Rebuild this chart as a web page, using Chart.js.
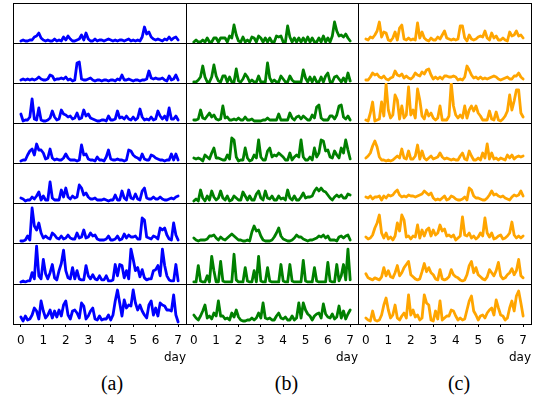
<!DOCTYPE html>
<html><head><meta charset="utf-8">
<script src="https://cdn.jsdelivr.net/npm/chart.js@4.4.0/dist/chart.umd.min.js"></script>
<style>
html,body{margin:0;padding:0;background:#fff;}
#wrap{position:relative;width:542px;height:398px;overflow:hidden;background:#fff;}
.p{position:absolute;}
.p canvas{display:block;}
.lab{position:absolute;font-family:"Liberation Serif","DejaVu Serif",serif;font-size:20px;line-height:20px;color:#000;transform:translate(-50%,-50%);white-space:nowrap;}
</style></head><body><div id="wrap"></div>
<script>
// x positions (day) of the samples
const days = [0,0.1,0.2,0.3,0.4,0.5,0.6,0.7,0.8,0.9,1,1.1,1.2,1.3,1.4,1.5,1.6,1.7,1.8,1.9,2,2.1,2.2,2.3,2.4,2.5,2.6,2.7,2.8,2.9,3,3.1,3.2,3.3,3.4,3.5,3.6,3.7,3.8,3.9,4,4.1,4.2,4.3,4.4,4.5,4.6,4.7,4.8,4.9,5,5.1,5.2,5.3,5.4,5.5,5.6,5.7,5.8,5.9,6,6.1,6.2,6.3,6.4,6.5,6.6,6.7,6.8,6.9,7];
const dayTicks = [0,1,2,3,4,5,6,7];
const tickLabels = ['0','1','2','3','4','5','6','7'];
const axisTitle = 'day';
const panelLabels = ['(a)','(b)','(c)'];

// column (a) - blue
const a1 = [2,3,2,2,3,3,6,7,10,5, 3,2,3,2,2,4,2,3,2,6, 3,7,4,2,2,3,4,8,3,10, 4,2,2,4,2,3,3,2,3,4, 3,2,3,2,3,3,2,3,4,2, 3,2,3,2,6,16,9,11,6,4, 3,4,3,2,4,3,6,3,5,6, 3];
const a2 = [3,4,3,4,3,4,3,4,6,4, 3,3,4,8,7,3,4,4,5,4, 6,3,4,2,3,20,21,4,3,3, 4,5,3,2,3,3,2,3,3,2, 3,3,2,4,3,8,3,3,4,3, 2,3,3,2,3,3,4,12,5,4, 5,4,4,5,3,2,7,3,4,8, 3];
const a3 = [9,2,3,3,6,24,4,3,15,3, 2,2,3,5,12,6,3,4,13,9, 8,6,7,4,5,10,4,5,13,7, 9,5,4,3,2,2,3,3,2,7, 3,3,4,12,5,6,4,7,4,3, 6,3,5,14,6,3,4,3,6,3, 4,12,7,4,7,3,15,4,4,7, 3];
const a4 = [2,3,3,8,12,14,8,19,13,13, 10,4,5,14,5,3,4,3,3,5, 9,5,3,3,3,2,3,18,8,9, 4,3,3,2,6,3,3,2,6,13, 4,3,3,4,3,3,2,3,13,12, 8,6,5,3,9,4,3,3,8,7, 5,4,3,3,2,3,3,9,3,9, 3];
const a5 = [5,4,2,3,3,6,4,7,11,3, 7,3,3,21,5,3,3,3,13,6, 15,6,4,7,5,6,18,15,8,10, 6,4,4,5,3,3,3,4,3,2, 3,3,8,3,3,12,5,3,13,5, 4,9,4,3,12,15,5,4,4,6, 4,4,6,4,3,3,4,5,4,6, 7];
const a6 = [2,2,3,7,3,35,17,13,20,10, 5,7,5,4,10,8,5,4,7,4, 5,8,5,4,4,10,5,6,13,5, 6,10,7,8,4,3,3,3,4,7, 3,3,4,7,3,4,9,5,8,6, 6,7,4,4,25,23,6,5,4,7, 6,4,15,13,15,8,4,3,20,8, 3];
const a7 = [2,3,2,3,3,11,5,37,8,5, 24,10,5,11,19,6,4,13,20,33, 13,6,5,16,5,13,5,4,4,18, 8,5,9,5,4,8,4,4,8,3, 3,4,19,8,19,18,6,13,5,34, 24,13,16,7,14,6,4,5,5,13, 14,18,8,34,18,8,4,3,3,19, 3];
const a8 = [7,3,8,4,5,9,16,13,5,23, 13,6,9,14,6,13,7,14,8,19, 23,9,5,13,14,11,6,21,18,5, 8,13,16,5,4,8,4,5,5,9, 4,9,23,34,21,8,24,16,19,18, 34,21,14,19,13,9,6,19,23,9, 16,8,21,19,18,14,14,13,29,9, 2];

// column (b) - green
const b1 = [1,3,1,1,3,1,5,1,1,5, 5,1,5,5,5,1,7,5,18,8, 2,1,6,1,3,1,6,5,1,7, 5,1,5,1,5,1,1,7,6,7, 1,1,17,6,1,5,1,5,1,5, 1,6,1,5,1,1,5,1,7,1, 5,1,7,21,12,7,8,6,9,5, 2];
const b2 = [1,1,3,6,17,6,1,1,6,18, 7,2,1,7,7,1,6,1,1,14, 2,1,4,9,6,1,3,1,1,7, 1,1,1,20,5,1,3,1,1,7, 4,1,1,7,3,1,1,1,1,13, 5,1,6,1,6,1,1,6,1,7, 10,1,1,6,7,4,1,5,1,10, 2];
const b3 = [3,3,4,13,5,4,7,10,6,8, 4,3,4,17,5,6,3,3,4,3, 5,3,3,6,3,3,4,2,2,2, 2,3,3,5,3,3,3,3,9,3, 3,3,3,10,5,3,6,7,4,7, 5,3,3,8,5,16,18,5,3,3, 3,7,7,4,8,17,18,6,4,7, 3];
const b4 = [5,4,5,4,2,8,6,4,10,15, 5,5,4,3,3,8,4,25,23,6, 2,3,3,15,5,2,3,8,5,23, 6,3,3,12,15,6,8,7,10,8, 6,3,3,10,3,6,8,6,23,6, 3,3,6,3,15,6,10,23,22,12, 13,6,5,12,8,5,15,10,23,13, 4];
const b5 = [2,4,2,13,5,2,7,3,12,6, 3,5,12,5,3,7,2,3,7,5, 3,3,11,7,3,7,3,3,9,12, 5,3,12,5,4,7,3,3,7,4, 5,3,13,5,3,7,3,3,6,10, 5,6,6,7,12,15,12,15,12,11, 8,5,3,6,8,6,8,5,5,9, 8];
const b6 = [5,3,2,3,3,3,4,7,7,8, 5,3,6,4,3,5,7,9,7,5, 3,3,2,2,3,2,11,17,12,13, 7,3,2,2,2,3,6,10,15,7, 4,3,2,2,3,5,8,6,6,4, 3,2,3,3,4,5,7,6,8,5, 7,3,3,3,2,6,7,5,7,8, 3];
const b7 = [2,2,18,3,2,2,8,2,27,13, 2,2,22,3,2,2,2,2,29,4, 2,2,2,16,3,2,2,13,2,27, 3,2,2,16,3,2,2,2,2,19, 3,2,2,19,3,2,2,2,2,23, 3,2,2,2,16,3,2,2,2,2, 21,3,2,2,19,3,8,19,4,34, 4];
const b8 = [9,6,4,8,13,19,6,8,5,11, 8,23,8,8,5,6,4,11,7,14, 7,4,3,3,4,4,6,4,6,11, 6,21,6,5,6,4,4,8,11,6, 5,7,4,4,8,4,6,21,6,21, 14,10,8,4,8,10,11,6,20,10, 7,6,10,5,7,18,6,13,5,10, 14];

// column (c) - orange
const c1 = [4,3,6,5,8,12,21,6,11,10, 3,2,5,11,3,15,18,4,3,5, 3,4,3,20,5,11,5,3,2,5, 3,3,6,4,8,12,5,4,3,4, 3,4,17,17,5,2,8,4,3,4, 6,7,6,12,5,3,10,5,7,3, 3,5,3,2,11,7,8,12,7,8, 5];
const c2 = [3,3,6,10,8,9,6,5,7,4, 3,5,6,12,8,7,9,5,7,5, 4,6,10,8,7,11,9,13,14,8, 4,6,4,6,4,7,7,6,6,7, 6,3,4,3,6,17,13,8,5,6, 4,6,4,5,4,5,6,7,6,4, 3,4,5,6,4,4,7,7,10,6, 4];
const c3 = [3,2,10,21,2,3,4,21,7,39, 13,5,8,28,23,4,17,5,8,36, 8,13,5,34,23,7,4,13,7,10, 5,3,5,17,3,3,3,7,40,17, 8,5,8,5,17,5,13,17,12,17, 10,7,3,3,3,12,4,3,11,3, 2,4,7,12,28,13,22,33,33,10, 6];
const c4 = [5,7,10,17,22,16,6,3,3,2, 3,2,3,5,7,5,14,5,4,12, 4,4,7,18,4,12,5,3,5,7, 4,5,6,10,6,4,5,4,3,4, 3,3,7,10,4,3,12,7,3,3, 5,3,10,5,19,4,10,4,5,3, 5,4,3,8,5,8,4,6,7,6, 7];
const c5 = [6,5,7,4,6,6,7,3,7,5, 8,7,8,11,13,8,6,7,6,8, 7,7,6,7,8,9,12,10,8,10, 5,3,4,3,5,7,3,4,7,6, 4,3,3,4,6,3,15,13,7,5, 5,4,3,3,5,8,12,8,9,7, 6,7,5,4,3,6,8,7,8,12, 7];
const c6 = [6,4,5,8,15,20,28,10,5,10, 4,6,3,7,20,12,28,23,6,7, 4,7,6,18,5,13,7,13,15,7, 13,8,10,18,12,14,7,8,6,8, 3,5,7,26,8,7,10,5,7,4, 6,10,7,25,10,6,10,4,5,7, 8,4,5,7,10,21,8,5,7,5, 7];
const c7 = [10,6,5,4,6,5,4,7,16,8, 13,7,6,11,18,8,11,16,19,22, 9,7,5,4,5,12,20,12,16,11, 9,5,4,14,5,4,5,7,14,9, 7,6,4,3,4,9,18,22,11,16, 9,7,5,4,7,14,11,8,13,21, 8,5,6,9,11,15,9,13,24,8, 6];
const c8 = [6,4,3,13,4,3,4,9,19,26, 14,6,9,19,6,4,8,11,6,29, 9,14,7,9,4,6,29,21,19,4, 3,13,5,23,4,6,8,8,14,13, 8,4,6,4,5,14,23,28,13,9, 4,8,9,6,11,14,16,9,24,16, 9,8,4,6,16,23,13,28,33,21, 8];

const columns = [[a1,a2,a3,a4,a5,a6,a7,a8],[b1,b2,b3,b4,b5,b6,b7,b8],[c1,c2,c3,c4,c5,c6,c7,c8]];
const colors = ['#0000ff','#008000','#ffa500'];

// layout (pixels)
const colLeft = [13,186,358];
const colWidth = [173,172,174];
const rowTop = [3,43,83,123,163,203,243,284];
const rowBottom = 324;
const axisH = 46;
const labelPos = [[112,383],[286.5,383],[459,383]];

const wrap = document.getElementById('wrap');
const noTick = {display:false};
const noGrid = {display:false, drawTicks:false};
const frame = {display:true, color:'#000', width:1};
function zeroPad(s) { s.paddingLeft = 0; s.paddingRight = 0; s.paddingTop = 0; s.paddingBottom = 0; }

for (let c = 0; c < 3; c++) {
  for (let r = 0; r < 8; r++) {
    const isBottom = r === 7;
    const h = (r < 7 ? rowTop[r+1] : rowBottom) - rowTop[r];
    const W = colWidth[c];
    const H = h + (isBottom ? axisH : 0);
    const div = document.createElement('div');
    div.className = 'p';
    div.style.left = colLeft[c] + 'px';
    div.style.top = rowTop[r] + 'px';
    div.style.width = W + 'px';
    div.style.height = H + 'px';
    const cv = document.createElement('canvas');
    cv.width = W; cv.height = H;
    cv.style.width = W + 'px'; cv.style.height = H + 'px';
    div.appendChild(cv);
    wrap.appendChild(div);

    const vals = columns[c][r];
    const scales = {
      x: {
        type:'linear', min:-0.35, max:7.35, position:'bottom', display:isBottom,
        afterBuildTicks: s => { s.ticks = dayTicks.map(v => ({value:v})); },
        afterFit: s => { s.height = isBottom ? axisH : 0; zeroPad(s); },
        ticks: {display:true, padding:7, color:'#000', autoSkip:false, maxRotation:0,
                font:{family:'DejaVu Sans', size:12},
                callback: v => { const k = dayTicks.indexOf(v); return k >= 0 ? tickLabels[k] : ''; }},
        grid: {display:true, drawOnChartArea:false, drawTicks:true, tickLength:3, color:'#000', lineWidth:1},
        border: frame,
        title: {display:true, text:axisTitle, align:'end', color:'#000',
                font:{family:'DejaVu Sans', size:12}, padding:{top:0, bottom:5}}
      },
      xt: {
        type:'linear', position:'top', display:true,
        afterFit: s => { s.height = 0; zeroPad(s); },
        ticks: noTick, grid: noGrid, border: frame
      },
      y: {
        type:'linear', min:0, max:40, position:'left', display:true,
        afterFit: s => { s.width = 0; zeroPad(s); },
        ticks: noTick, grid: noGrid, border: frame
      }
    };
    if (c === 2) {
      scales.yr = {
        type:'linear', position:'right', display:true,
        afterFit: s => { s.width = 1; zeroPad(s); },
        ticks: noTick, grid: noGrid, border: frame
      };
    }
    new Chart(cv, {
      type:'line',
      data:{ datasets:[{
        data: vals.map((v,i) => ({x:days[i], y:v})),
        xAxisID:'x', yAxisID:'y',
        borderColor:colors[c], backgroundColor:colors[c],
        borderWidth:2.8, pointRadius:0, tension:0, fill:false,
        borderJoinStyle:'round', borderCapStyle:'round'
      }]},
      options:{
        responsive:false, animation:false, devicePixelRatio:1,
        layout:{padding:0, autoPadding:false},
        plugins:{legend:{display:false}, tooltip:{enabled:false}, title:{display:false}},
        scales
      }
    });
  }
  const lab = document.createElement('div');
  lab.className = 'lab';
  lab.textContent = panelLabels[c];
  lab.style.left = labelPos[c][0] + 'px';
  lab.style.top = labelPos[c][1] + 'px';
  wrap.appendChild(lab);
}
</script></body></html>
